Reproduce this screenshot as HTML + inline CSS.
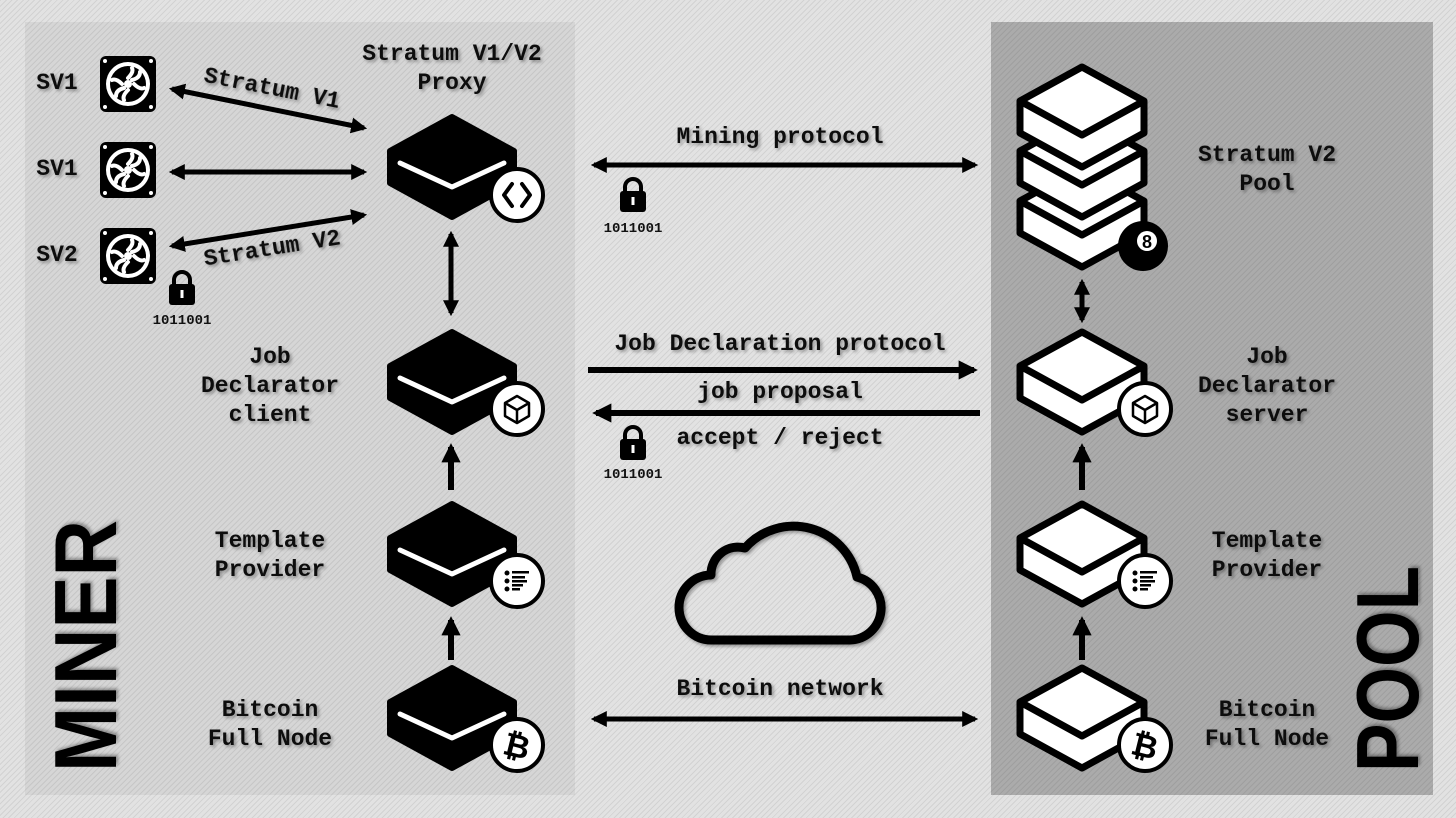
<!DOCTYPE html>
<html><head><meta charset="utf-8"><style>
html,body{margin:0;padding:0;width:1456px;height:818px;overflow:hidden}
body{background:#e2e2e2;background-image:repeating-linear-gradient(135deg,rgba(0,0,0,0.07) 0 1px,transparent 1px 4px)}
svg{position:absolute;left:0;top:0}
.t{font-family:"Liberation Mono",monospace;font-size:23px;font-weight:bold;fill:#111;text-anchor:middle;filter:url(#sh)}
.s{font-family:"Liberation Mono",monospace;font-size:14px;font-weight:bold;fill:#111;text-anchor:middle}
</style></head><body>
<svg width="1456" height="818" viewBox="0 0 1456 818">
<defs>
<filter id="sh" x="-20%" y="-20%" width="140%" height="140%"><feDropShadow dx="2" dy="2" stdDeviation="1.5" flood-color="#000" flood-opacity="0.35"/></filter>
<marker id="ah" viewBox="0 0 10 10" refX="8" refY="5" markerWidth="3.2" markerHeight="3.2" orient="auto-start-reverse"><path d="M0,0L10,5L0,10z" fill="#000"/></marker>
<pattern id="st" width="4" height="4" patternUnits="userSpaceOnUse" patternTransform="rotate(45)"><rect width="4" height="4" fill="none"/><rect width="1" height="4" fill="rgba(0,0,0,0.08)"/></pattern>
<g id="bn">
<path d="M0,-50 L62,-16 L62,16 L0,50 L-62,16 L-62,-16 Z" fill="#000" stroke="#000" stroke-width="6" stroke-linejoin="round"/>
<path d="M-52,-4 L0,20 L52,-4" fill="none" stroke="#fff" stroke-width="5" stroke-linecap="round" stroke-linejoin="round"/>
</g>
<g id="wn">
<path d="M0,-50 L62,-16 L62,16 L0,50 L-62,16 L-62,-16 Z" fill="#fff" stroke="#000" stroke-width="7" stroke-linejoin="round"/>
<path d="M-62,-16 L0,18 L62,-16" fill="none" stroke="#000" stroke-width="7" stroke-linejoin="round"/>
</g>
<g id="fan">
<rect x="-28" y="-28" width="56" height="56" rx="6" fill="#000"/>
<circle r="22" fill="#fff"/><circle r="18" fill="#000"/>
<circle r="4" fill="#fff"/>
<g stroke="#fff" stroke-width="4" stroke-linecap="round" fill="none">
<path d="M0,-6 Q6,-12 4,-16"/><path d="M6,0 Q12,6 16,4"/><path d="M0,6 Q-6,12 -4,16"/><path d="M-6,0 Q-12,-6 -16,-4"/>
<path d="M4,-4 Q12,-6 12,-12"/><path d="M-4,4 Q-12,6 -12,12"/>
</g>
<g fill="#fff"><circle cx="-23" cy="-23" r="2"/><circle cx="23" cy="-23" r="2"/><circle cx="-23" cy="23" r="2"/><circle cx="23" cy="23" r="2"/></g>
</g>
<g id="lock"><path d="M-8,-6 V-11 A8,8 0 0 1 8,-11 V-6" fill="none" stroke="#000" stroke-width="4"/><rect x="-13" y="-7" width="26" height="21" rx="3" fill="#000"/><rect x="-1.5" y="-1" width="3" height="8" fill="#fff"/></g>
<g id="badge"><circle r="26" fill="#fff" stroke="#000" stroke-width="4"/></g>
</defs>
<rect x="25" y="22" width="550" height="773" fill="#d6d6d6"/>
<rect x="25" y="22" width="550" height="773" fill="url(#st)"/>
<rect x="991" y="22" width="442" height="773" fill="#ababab"/>
<rect x="991" y="22" width="442" height="773" fill="url(#st)"/>

<use href="#fan" x="128" y="84"/><use href="#fan" x="128" y="170"/><use href="#fan" x="128" y="256"/>
<text class="t" x="57" y="89">SV1</text><text class="t" x="57" y="175">SV1</text><text class="t" x="57" y="261">SV2</text>
<use href="#lock" x="182" y="291"/><text class="s" x="182" y="324">1011001</text>

<g stroke="#000" stroke-width="5" marker-start="url(#ah)" marker-end="url(#ah)">
<line x1="172" y1="89" x2="364" y2="128"/>
<line x1="172" y1="172" x2="364" y2="172"/>
<line x1="172" y1="246" x2="364" y2="215"/>
<line x1="594" y1="165" x2="975" y2="165"/>
<line x1="594" y1="719" x2="975" y2="719"/>
<line x1="451" y1="234" x2="451" y2="313"/>
<line x1="1082" y1="282" x2="1082" y2="320"/>
</g>
<g stroke="#000" stroke-width="6" marker-end="url(#ah)">
<line x1="588" y1="370" x2="974" y2="370"/>
<line x1="980" y1="413" x2="596" y2="413"/>
<line x1="451" y1="490" x2="451" y2="447"/>
<line x1="451" y1="660" x2="451" y2="620"/>
<line x1="1082" y1="490" x2="1082" y2="447"/>
<line x1="1082" y1="660" x2="1082" y2="620"/>
</g>
<text class="t" x="272" y="95" transform="rotate(11 272 88)">Stratum V1</text>
<text class="t" x="272" y="255" transform="rotate(-9 272 248)">Stratum V2</text>

<text class="t" x="452" y="60">Stratum V1/V2</text><text class="t" x="452" y="89">Proxy</text>
<text class="t" x="270" y="363">Job</text><text class="t" x="270" y="392">Declarator</text><text class="t" x="270" y="421">client</text>
<text class="t" x="270" y="547">Template</text><text class="t" x="270" y="576">Provider</text>
<text class="t" x="270" y="716">Bitcoin</text><text class="t" x="270" y="745">Full Node</text>

<text class="t" x="780" y="143">Mining protocol</text>
<use href="#lock" x="633" y="198"/><text class="s" x="633" y="232">1011001</text>
<text class="t" x="780" y="350">Job Declaration protocol</text>
<text class="t" x="780" y="398">job proposal</text>
<text class="t" x="780" y="444">accept / reject</text>
<use href="#lock" x="633" y="446"/><text class="s" x="633" y="478">1011001</text>
<text class="t" x="780" y="695">Bitcoin network</text>

<path d="M712,640 H850 A32,32 0 0 0 857,577 A65,65 0 0 0 745,548 A27,27 0 0 0 711,575 A32,32 0 0 0 712,640 Z" fill="none" stroke="#000" stroke-width="9" stroke-linejoin="round" filter="url(#sh)"/>

<use href="#bn" x="452" y="167"/><use href="#bn" x="452" y="382"/><use href="#bn" x="452" y="554"/><use href="#bn" x="452" y="718"/>
<use href="#badge" x="517" y="195"/><path d="M512,184 L504,195 L512,206 M522,184 L530,195 L522,206" fill="none" stroke="#000" stroke-width="4" stroke-linecap="round" stroke-linejoin="round"/>
<use href="#badge" x="517" y="409"/><g transform="translate(517,409)"><path d="M-12,-6 L0,-13 L12,-6 V7 L0,14 L-12,7 Z M-12,-6 L0,1 L12,-6 M0,1 V14" fill="none" stroke="#000" stroke-width="2.5" stroke-linejoin="round"/></g>
<use href="#badge" x="517" y="581"/><g transform="translate(517,581)" fill="#000"><circle cx="-10" cy="-8" r="2.5"/><circle cx="-10" cy="0" r="2.5"/><circle cx="-10" cy="8" r="2.5"/><rect x="-5" y="-10" width="17" height="2.5"/><rect x="-5" y="-5" width="13" height="2.5"/><rect x="-5" y="-1" width="15" height="2.5"/><rect x="-5" y="3" width="11" height="2.5"/><rect x="-5" y="7" width="8" height="2.5"/></g>
<use href="#badge" x="517" y="745"/><text x="517" y="757" font-family="Liberation Sans,sans-serif" font-weight="bold" font-size="32" text-anchor="middle" transform="rotate(14 517 745)">₿</text>

<use href="#wn" x="1082" y="217"/><use href="#wn" x="1082" y="167"/><use href="#wn" x="1082" y="117"/>
<circle cx="1143" cy="246" r="25" fill="#000"/><circle cx="1147" cy="241" r="10" fill="#fff"/><text x="1147" y="248" font-family="Liberation Sans,sans-serif" font-weight="bold" font-size="18" text-anchor="middle">8</text>
<use href="#wn" x="1082" y="382"/><use href="#wn" x="1082" y="554"/><use href="#wn" x="1082" y="718"/>
<use href="#badge" x="1145" y="409"/><g transform="translate(1145,409)"><path d="M-12,-6 L0,-13 L12,-6 V7 L0,14 L-12,7 Z M-12,-6 L0,1 L12,-6 M0,1 V14" fill="none" stroke="#000" stroke-width="2.5" stroke-linejoin="round"/></g>
<use href="#badge" x="1145" y="581"/><g transform="translate(1145,581)" fill="#000"><circle cx="-10" cy="-8" r="2.5"/><circle cx="-10" cy="0" r="2.5"/><circle cx="-10" cy="8" r="2.5"/><rect x="-5" y="-10" width="17" height="2.5"/><rect x="-5" y="-5" width="13" height="2.5"/><rect x="-5" y="-1" width="15" height="2.5"/><rect x="-5" y="3" width="11" height="2.5"/><rect x="-5" y="7" width="8" height="2.5"/></g>
<use href="#badge" x="1145" y="745"/><text x="1145" y="757" font-family="Liberation Sans,sans-serif" font-weight="bold" font-size="32" text-anchor="middle" transform="rotate(14 1145 745)">₿</text>

<text class="t" x="1267" y="161">Stratum V2</text><text class="t" x="1267" y="190">Pool</text>
<text class="t" x="1267" y="363">Job</text><text class="t" x="1267" y="392">Declarator</text><text class="t" x="1267" y="421">server</text>
<text class="t" x="1267" y="547">Template</text><text class="t" x="1267" y="576">Provider</text>
<text class="t" x="1267" y="716">Bitcoin</text><text class="t" x="1267" y="745">Full Node</text>

<text x="0" y="0" transform="translate(116,772) rotate(-90)" font-family="Liberation Sans,sans-serif" font-weight="bold" font-size="88" fill="#000" textLength="252" lengthAdjust="spacingAndGlyphs" filter="url(#sh)">MINER</text>
<text x="0" y="0" transform="translate(1418,772) rotate(-90)" font-family="Liberation Sans,sans-serif" font-weight="bold" font-size="88" fill="#000" textLength="206" lengthAdjust="spacingAndGlyphs" filter="url(#sh)">POOL</text>
</svg>
</body></html>
